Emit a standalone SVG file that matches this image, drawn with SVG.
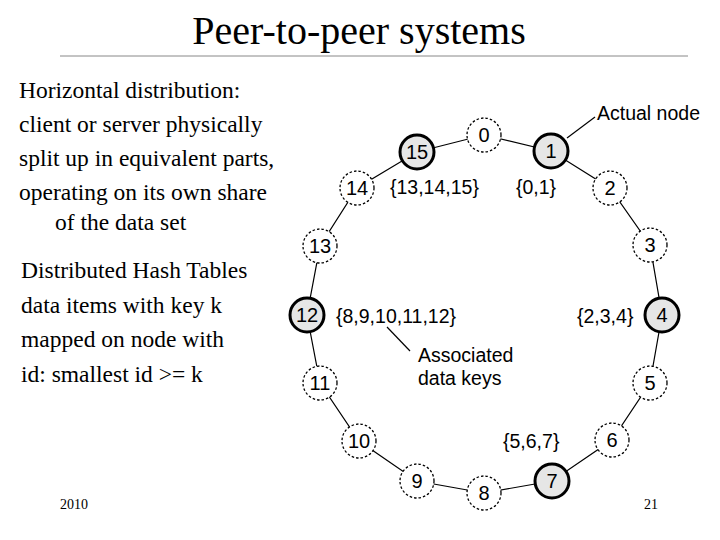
<svg xmlns="http://www.w3.org/2000/svg" width="720" height="540" viewBox="0 0 720 540">
<style>
.t{font-family:"Liberation Serif",serif;fill:#000}
.s{font-family:"Liberation Sans",Arial,sans-serif;fill:#000}
.n circle{fill:#fff;stroke:#000;stroke-width:1.3;stroke-dasharray:2.5 2}
.n.a circle{fill:#e6e6e6;stroke-width:3;stroke-dasharray:none}
.n text{font-family:"Liberation Sans",Arial,sans-serif;font-size:20px;text-anchor:middle}
</style>
<rect width="720" height="540" fill="#fff"/>
<text class="t" x="359" y="44" font-size="40" text-anchor="middle">Peer-to-peer systems</text>
<line x1="60" y1="56" x2="688" y2="56" stroke="#888" stroke-width="1"/>
<g class="t" font-size="23.5">
<text x="19" y="98">Horizontal distribution:</text>
<text x="19" y="132">client or server physically</text>
<text x="19" y="166">split up in equivalent parts,</text>
<text x="19" y="200">operating on its own share</text>
<text x="55" y="230">of the data set</text>
<text x="21" y="278">Distributed Hash Tables</text>
<text x="21" y="313">data items with key k</text>
<text x="21" y="347">mapped on node with</text>
<text x="21" y="382">id: smallest id &gt;= k</text>
</g>
<text class="t" x="60" y="509" font-size="14">2010</text>
<text class="t" x="644" y="509" font-size="14">21</text>
<g id="connectors" fill="none" stroke="#000" stroke-width="1.2">
<path d="M484,135 L551,151 L610,188 L650,245 L662,315 L650,383 L612,440 L552,481 L484,493 L417,481 L359,441 L320,383 L307,315 L320,246 L357,188 L417,152 Z"/>
<line x1="567" y1="138" x2="595" y2="117"/>
<line x1="387" y1="327" x2="410" y2="351"/>
</g>
<g id="n0" class="n"><circle cx="484" cy="135" r="17"/><text x="484" y="142">0</text></g>
<g id="n1" class="n a"><circle cx="551" cy="151" r="17"/><text x="551" y="158">1</text></g>
<g id="n2" class="n"><circle cx="610" cy="188" r="17"/><text x="610" y="195">2</text></g>
<g id="n3" class="n"><circle cx="650" cy="245" r="17"/><text x="650" y="252">3</text></g>
<g id="n4" class="n a"><circle cx="662" cy="315" r="17"/><text x="662" y="322">4</text></g>
<g id="n5" class="n"><circle cx="650" cy="383" r="17"/><text x="650" y="390">5</text></g>
<g id="n6" class="n"><circle cx="612" cy="440" r="17"/><text x="612" y="447">6</text></g>
<g id="n7" class="n a"><circle cx="552" cy="481" r="17"/><text x="552" y="488">7</text></g>
<g id="n8" class="n"><circle cx="484" cy="493" r="17"/><text x="484" y="500">8</text></g>
<g id="n9" class="n"><circle cx="417" cy="481" r="17"/><text x="417" y="488">9</text></g>
<g id="n10" class="n"><circle cx="359" cy="441" r="17"/><text x="359" y="448">10</text></g>
<g id="n11" class="n"><circle cx="320" cy="383" r="17"/><text x="320" y="390">11</text></g>
<g id="n12" class="n a"><circle cx="307" cy="315" r="17"/><text x="307" y="322">12</text></g>
<g id="n13" class="n"><circle cx="320" cy="246" r="17"/><text x="320" y="253">13</text></g>
<g id="n14" class="n"><circle cx="357" cy="188" r="17"/><text x="357" y="195">14</text></g>
<g id="n15" class="n a"><circle cx="417" cy="152" r="17"/><text x="417" y="159">15</text></g>
<g class="s" font-size="19.5">
<text x="597" y="120">Actual node</text>
<text x="390" y="194">{13,14,15}</text>
<text x="516" y="194">{0,1}</text>
<text x="336" y="323">{8,9,10,11,12}</text>
<text x="577" y="323">{2,3,4}</text>
<text x="418" y="362">Associated</text>
<text x="418" y="385">data keys</text>
<text x="503" y="448">{5,6,7}</text>
</g>
</svg>
